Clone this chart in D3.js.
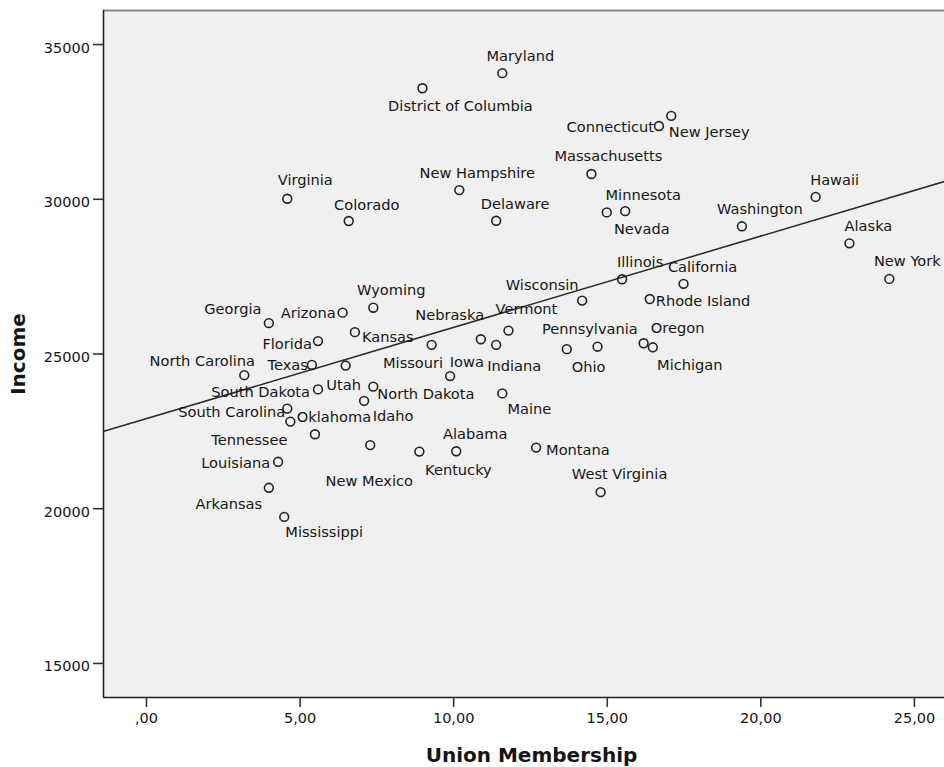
<!DOCTYPE html>
<html>
<head>
<meta charset="utf-8">
<script src="https://cdn.jsdelivr.net/npm/d3@7"></script>
<style>
  body { margin: 0; background: #fff; }
  text { font-family: "DejaVu Sans", sans-serif; fill: #151515; }
</style>
</head>
<body>
<script>
// Chart data
const states = [
  'Maryland', 'District of Columbia', 'Connecticut', 'New Jersey', 'Massachusetts',
  'New Hampshire', 'Virginia', 'Colorado', 'Delaware', 'Minnesota', 'Nevada',
  'Hawaii', 'Washington', 'Alaska', 'Illinois', 'California', 'New York',
  'Rhode Island', 'Wisconsin', 'Oregon', 'Michigan', 'Pennsylvania', 'Ohio',
  'Vermont', 'Indiana', 'Iowa', 'Nebraska', 'Missouri', 'Maine', 'Wyoming',
  'Arizona', 'Kansas', 'Georgia', 'Florida', 'Texas', 'North Carolina', 'Utah',
  'South Dakota', 'North Dakota', 'South Carolina', 'Tennessee', 'Oklahoma',
  'Idaho', 'Louisiana', 'Arkansas', 'Mississippi', 'New Mexico', 'Kentucky',
  'Alabama', 'Montana', 'West Virginia'
];
const union = [
  11.6, 9.0, 16.7, 17.1, 14.5,
  10.2, 4.6, 6.6, 11.4, 15.6, 15.0,
  21.8, 19.4, 22.9, 15.5, 17.5, 24.2,
  16.4, 14.2, 16.2, 16.5, 13.7, 14.7,
  11.8, 11.4, 10.9, 9.3, 9.9, 11.6, 7.4,
  6.4, 6.8, 4.0, 5.6, 5.4, 3.2, 6.5,
  5.6, 7.4, 4.6, 4.7, 5.5,
  7.1, 4.3, 4.0, 4.5, 7.3, 8.9,
  10.1, 12.7, 14.8
];
const income = [
  34060, 33570, 32350, 32680, 30800,
  30280, 30000, 29280, 29290, 29600, 29560,
  30060, 29110, 28560, 27400, 27250, 27410,
  26760, 26710, 25330, 25200, 25140, 25220,
  25740, 25280, 25460, 25280, 24270, 23710, 26480,
  26320, 25690, 25980, 25400, 24630, 24300, 24610,
  23840, 23930, 23220, 22800, 22390,
  23470, 21500, 20660, 19720, 22040, 21830,
  21840, 21960, 20520
];
const xTicks = [0, 5, 10, 15, 20, 25];
const yTicks = [15000, 20000, 25000, 30000, 35000];
// fit line
const fitIntercept = 22890;
const fitSlope = 295;

// label placement relative to the point: [dx, dy, anchor]
const labelOffset = {
  'Maryland': [18, -18, 'middle'], 'District of Columbia': [38, 17, 'middle'],
  'Connecticut': [-5, 0, 'end'], 'New Jersey': [38, 16, 'middle'],
  'Massachusetts': [17, -19, 'middle'], 'New Hampshire': [18, -18, 'middle'],
  'Virginia': [18, -19, 'middle'], 'Colorado': [18, -17, 'middle'],
  'Delaware': [19, -17, 'middle'], 'Minnesota': [18, -17, 'middle'],
  'Nevada': [35, 16, 'middle'], 'Hawaii': [19, -17, 'middle'],
  'Washington': [18, -18, 'middle'], 'Alaska': [19, -18, 'middle'],
  'Illinois': [18, -18, 'middle'], 'California': [19, -17, 'middle'],
  'New York': [18, -18, 'middle'], 'Rhode Island': [6, 1, 'start'],
  'Wisconsin': [-40, -16, 'middle'], 'Oregon': [34, -16, 'middle'],
  'Michigan': [37, 17, 'middle'], 'Pennsylvania': [23, -21, 'middle'],
  'Ohio': [-9, 20, 'middle'], 'Vermont': [18, -22, 'middle'],
  'Indiana': [18, 21, 'middle'], 'Iowa': [-14, 22, 'middle'],
  'Nebraska': [18, -30, 'middle'], 'Missouri': [-7, -14, 'end'],
  'Maine': [27, 15, 'middle'], 'Wyoming': [18, -18, 'middle'],
  'Arizona': [-7, 0, 'end'], 'Kansas': [7, 4, 'start'],
  'Georgia': [-36, -15, 'middle'], 'Florida': [-6, 2, 'end'],
  'Texas': [-4, 0, 'end'], 'North Carolina': [-42, -15, 'middle'],
  'Utah': [-2, 19, 'middle'], 'South Dakota': [-8, 2, 'end'],
  'North Dakota': [4, 7, 'start'], 'South Carolina': [-2, 3, 'end'],
  'Tennessee': [-41, 18, 'middle'], 'Oklahoma': [19, -18, 'middle'],
  'Idaho': [29, 15, 'middle'], 'Louisiana': [-8, 1, 'end'],
  'Arkansas': [-40, 16, 'middle'], 'Mississippi': [40, 15, 'middle'],
  'New Mexico': [-1, 35, 'middle'], 'Kentucky': [39, 18, 'middle'],
  'Alabama': [19, -18, 'middle'], 'Montana': [10, 2, 'start'],
  'West Virginia': [19, -19, 'middle']
};

const width = 944;
const height = 767;
const plot = { left: 103, right: 960, top: 10, bottom: 697 };

const svg = d3.select('body')
  .append('svg')
  .attr('width', width)
  .attr('height', height);

const x = d3.scaleLinear().domain([-1.4, 26.5]).range([plot.left, plot.right]);
const y = d3.scaleLinear().domain([13900, 36100]).range([plot.bottom, plot.top]);

// plot background
svg.append('rect')
  .attr('x', plot.left)
  .attr('y', plot.top)
  .attr('width', plot.right - plot.left)
  .attr('height', plot.bottom - plot.top)
  .attr('fill', '#f0f0f0');

// top border
svg.append('line')
  .attr('x1', plot.left).attr('x2', plot.right)
  .attr('y1', plot.top + 0.5).attr('y2', plot.top + 0.5)
  .attr('stroke', '#8a8a8a')
  .attr('stroke-width', 2);

// axes
const xAxis = d3.axisBottom(x)
  .tickValues(xTicks)
  .tickSize(10)
  .tickPadding(6)
  .tickFormat(d => d === 0 ? ',00' : d3.format('.2f')(d).replace('.', ','));

const gx = svg.append('g')
  .attr('transform', `translate(0,${plot.bottom})`)
  .call(xAxis);

const yAxis = d3.axisLeft(y)
  .tickValues(yTicks)
  .tickSize(10)
  .tickPadding(3)
  .tickFormat(d3.format('d'));

const gy = svg.append('g')
  .attr('transform', `translate(${plot.left},0)`)
  .call(yAxis);

[gx, gy].forEach(g => {
  g.select('.domain').attr('stroke', '#222').attr('stroke-width', 1.6);
  g.selectAll('.tick line').attr('stroke', '#333').attr('stroke-width', 1.6);
  g.selectAll('.tick text')
    .attr('font-family', '"DejaVu Sans", sans-serif')
    .attr('font-size', 14.5)
    .attr('fill', '#222');
});
gx.select('.domain').attr('d', `M${plot.left},0.5H${plot.right}`);
gy.select('.domain').attr('d', `M0.5,${plot.bottom}V${plot.top}`);
gy.selectAll('.tick text').attr('dy', '0.55em');

// fit line
const xd = x.domain();
svg.append('line')
  .attr('x1', x(xd[0])).attr('y1', y(fitIntercept + fitSlope * xd[0]))
  .attr('x2', x(xd[1])).attr('y2', y(fitIntercept + fitSlope * xd[1]))
  .attr('stroke', '#2a2a2a')
  .attr('stroke-width', 1.5);

const points = states.map((s, i) => ({ name: s, u: union[i], inc: income[i] }));

// points
svg.selectAll('.dot')
  .data(points)
  .enter()
  .append('circle')
  .attr('class', 'dot')
  .attr('cx', d => x(d.u))
  .attr('cy', d => y(d.inc))
  .attr('r', 4.4)
  .attr('fill', 'none')
  .attr('stroke', '#222')
  .attr('stroke-width', 1.6);

// point labels
svg.selectAll('.lbl')
  .data(points)
  .enter()
  .append('text')
  .attr('class', 'lbl')
  .attr('x', d => x(d.u) + labelOffset[d.name][0])
  .attr('y', d => y(d.inc) + labelOffset[d.name][1] + 5.5)
  .attr('text-anchor', d => labelOffset[d.name][2])
  .attr('font-size', 14.6)
  .text(d => d.name);

// axis titles
svg.append('text')
  .attr('x', (plot.left + plot.right) / 2)
  .attr('y', 762)
  .attr('text-anchor', 'middle')
  .attr('font-size', 20)
  .attr('font-weight', 'bold')
  .attr('fill', '#111')
  .text('Union Membership');

svg.append('text')
  .attr('transform', 'translate(25,354) rotate(-90)')
  .attr('text-anchor', 'middle')
  .attr('font-size', 20)
  .attr('font-weight', 'bold')
  .attr('fill', '#111')
  .text('Income');
</script>
</body>
</html>
